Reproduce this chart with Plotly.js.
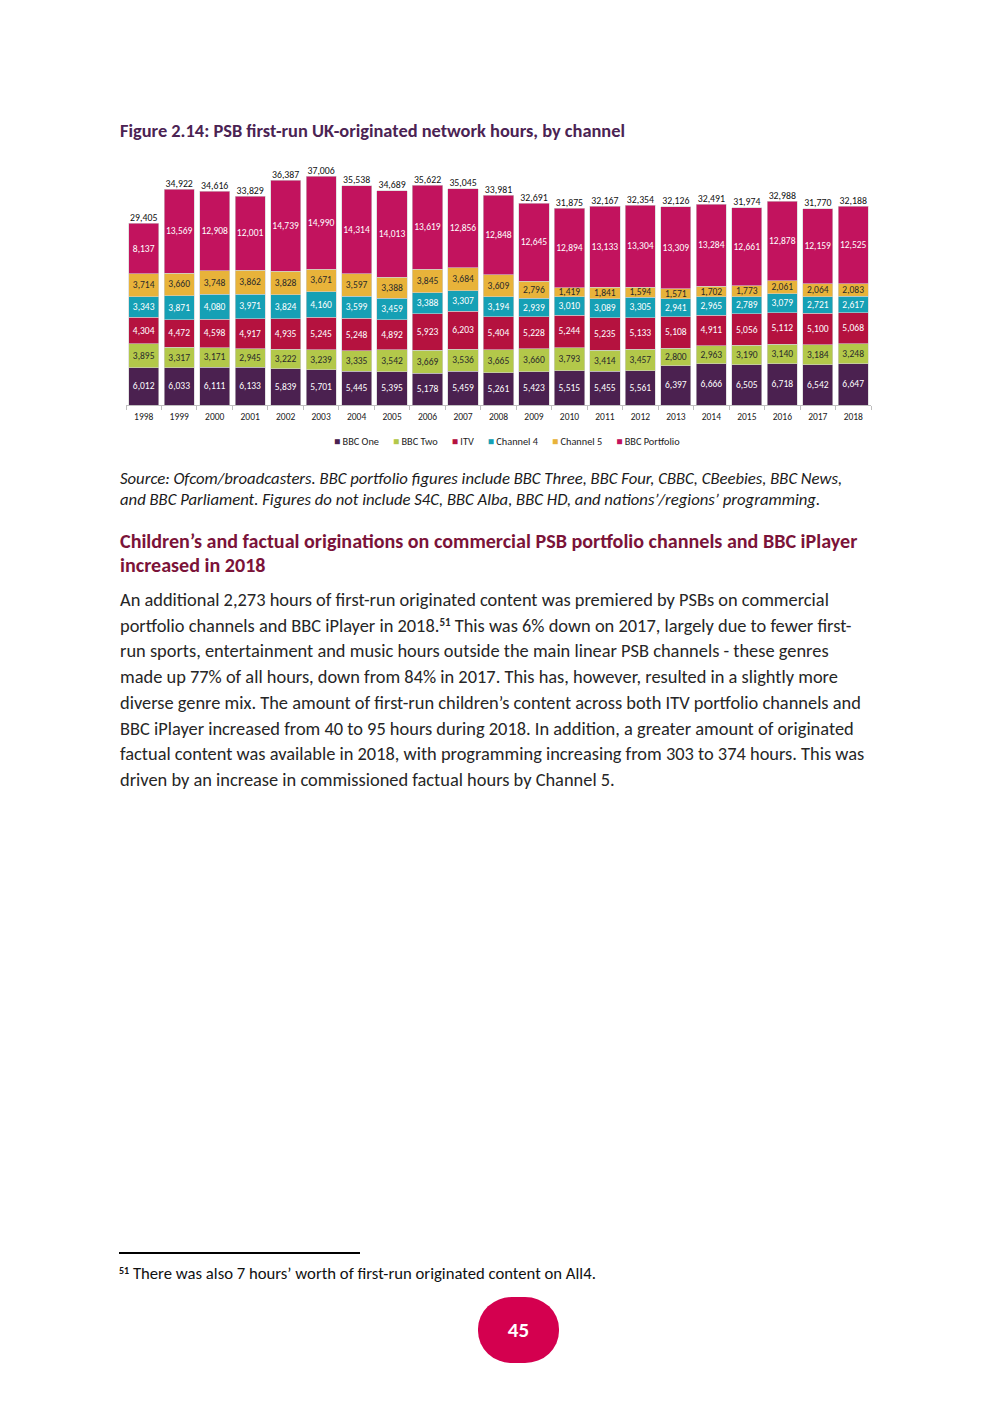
<!DOCTYPE html>
<html>
<head>
<meta charset="utf-8">
<script src="https://cdn.plot.ly/plotly-3.0.1.min.js"></script>
<style>
  html, body { margin: 0; padding: 0; background: #fff; }
  body { width: 992px; height: 1403px; position: relative; overflow: hidden; font-family: Carlito, Lato, "Open Sans", sans-serif; }
  .abs { position: absolute; white-space: nowrap; }
  sup { vertical-align: baseline; position: relative; top: -0.55em; line-height: 0; font-weight: bold; }
  #title { left: 120px; top: 119px; font-size: 18.4px; font-weight: bold; color: #4b2353; line-height: 24px; }
  #chart { position: absolute; left: 0; top: 100px; width: 992px; height: 360px; }
  #source { left: 120px; top: 468px; font-size: 16.7px; font-style: italic; color: #1a1a1a; line-height: 21px; }
  #heading { left: 120px; top: 529px; font-size: 20.1px; font-weight: bold; color: #7b1339; line-height: 24px; }
  #body { left: 120px; top: 587px; font-size: 18.4px; color: #262626; line-height: 25.7px; }
  #body sup { font-size: 11px; }
  #fnline { position: absolute; left: 119px; top: 1252px; width: 241px; height: 2px; background: #000; }
  #fn { left: 119px; top: 1262px; font-size: 16.7px; color: #111; line-height: 22px; }
  #fn sup { font-size: 10px; }
  #badge { position: absolute; left: 478px; top: 1297px; width: 81px; height: 66px; border-radius: 34px / 32px; background: #d4004f; color: #fff; font-weight: bold; font-size: 21px; text-align: center; line-height: 66px; }
</style>
</head>
<body>
<div id="title" class="abs">Figure 2.14: PSB first-run UK-originated network hours, by channel</div>
<div id="chart"></div>
<div id="source" class="abs">Source: Ofcom/broadcasters. BBC portfolio figures include BBC Three, BBC Four, CBBC, CBeebies, BBC News,<br>and BBC Parliament. Figures do not include S4C, BBC Alba, BBC HD, and nations’/regions’ programming.</div>
<div id="heading" class="abs">Children’s and factual originations on commercial PSB portfolio channels and BBC iPlayer<br>increased in 2018</div>
<div id="body" class="abs">An additional 2,273 hours of first-run originated content was premiered by PSBs on commercial<br>portfolio channels and BBC iPlayer in 2018.<sup>51</sup> This was 6% down on 2017, largely due to fewer first-<br>run sports, entertainment and music hours outside the main linear PSB channels - these genres<br>made up 77% of all hours, down from 84% in 2017. This has, however, resulted in a slightly more<br>diverse genre mix. The amount of first-run children’s content across both ITV portfolio channels and<br>BBC iPlayer increased from 40 to 95 hours during 2018. In addition, a greater amount of originated<br>factual content was available in 2018, with programming increasing from 303 to 374 hours. This was<br>driven by an increase in commissioned factual hours by Channel 5.</div>
<div id="fnline"></div>
<div id="fn" class="abs"><sup>51</sup> There was also 7 hours’ worth of first-run originated content on All4.</div>
<div id="badge">45</div>
<script>
var years = ['1998','1999','2000','2001','2002','2003','2004','2005','2006','2007','2008','2009','2010','2011','2012','2013','2014','2015','2016','2017','2018'];
var bbcOne = [6012,6033,6111,6133,5839,5701,5445,5395,5178,5459,5261,5423,5515,5455,5561,6397,6666,6505,6718,6542,6647];
var bbcTwo = [3895,3317,3171,2945,3222,3239,3335,3542,3669,3536,3665,3660,3793,3414,3457,2800,2963,3190,3140,3184,3248];
var itv = [4304,4472,4598,4917,4935,5245,5248,4892,5923,6203,5404,5228,5244,5235,5133,5108,4911,5056,5112,5100,5068];
var channel4 = [3343,3871,4080,3971,3824,4160,3599,3459,3388,3307,3194,2939,3010,3089,3305,2941,2965,2789,3079,2721,2617];
var channel5 = [3714,3660,3748,3862,3828,3671,3597,3388,3845,3684,3609,2796,1419,1841,1594,1571,1702,1773,2061,2064,2083];
var bbcPortfolio = [8137,13569,12908,12001,14739,14990,14314,14013,13619,12856,12848,12645,12894,13133,13304,13309,13284,12661,12878,12159,12525];

var seriesNames = ['BBC One','BBC Two','ITV','Channel 4','Channel 5','BBC Portfolio'];
var seriesData = [bbcOne, bbcTwo, itv, channel4, channel5, bbcPortfolio];
var colors = ['#4b2150','#b3c84a','#b5123f','#16a0b5','#e8b33a','#c2135e'];
var textColors = ['#ffffff','#2a2a2a','#ffffff','#ffffff','#2a2a2a','#ffffff'];

var fmt = function(v){ return v.toLocaleString('en-GB'); };
var chartFont = 'Carlito, Lato, "Open Sans", sans-serif';

var traces = seriesData.map(function(d, i){
  return {
    type: 'bar', name: seriesNames[i], x: years, y: d,
    marker: { color: colors[i], line: { color: '#d0d0d0', width: 0.6 } },
    text: d.map(fmt), textposition: 'inside', insidetextanchor: 'middle',
    textangle: 0, constraintext: 'none',
    textfont: { family: chartFont, size: 9.5, color: textColors[i] },
    hoverinfo: 'skip', showlegend: false
  };
});
var totals = years.map(function(y, j){ return seriesData.reduce(function(s, d){ return s + d[j]; }, 0); });
traces.push({
  type: 'scatter', mode: 'text', x: years, y: totals, text: totals.map(fmt),
  textposition: 'top center', showlegend: false, cliponaxis: false,
  textfont: { family: chartFont, size: 9.8, color: '#111' }, hoverinfo: 'skip'
});

var legendText = seriesNames.map(function(n, i){
  return '<span style="color:' + colors[i] + '">■</span>\u00a0' + n;
}).join('\u00a0\u00a0\u00a0\u00a0\u00a0\u00a0');

var layout = {
  width: 992, height: 360,
  margin: { l: 126, r: 121, t: 58, b: 55, autoexpand: false },
  barmode: 'stack', bargap: 0.15,
  paper_bgcolor: 'rgba(0,0,0,0)', plot_bgcolor: 'rgba(0,0,0,0)',
  font: { family: chartFont, size: 9.5, color: '#222' },
  xaxis: { type: 'category', range: [-0.5, 20.5], showline: true, linecolor: '#bfbfbf', linewidth: 1,
           ticks: 'outside', tickson: 'boundaries', ticklen: 4, tickcolor: '#bfbfbf', ticklabelstandoff: 3,
           tickfont: { family: chartFont, size: 9.5, color: '#222' }, showgrid: false, fixedrange: true },
  yaxis: { range: [0, 40000], visible: false, showgrid: false, zeroline: false, fixedrange: true },
  showlegend: false,
  annotations: [{
    xref: 'paper', yref: 'paper', x: 0.512, y: -0.146, xanchor: 'center', yanchor: 'middle',
    showarrow: false, text: legendText, font: { family: chartFont, size: 10.3, color: '#222' }
  }],
  uniformtext: { minsize: 9, mode: 'show' }
};
Plotly.newPlot('chart', traces, layout, { staticPlot: true, displayModeBar: false });
</script>
</body>
</html>
